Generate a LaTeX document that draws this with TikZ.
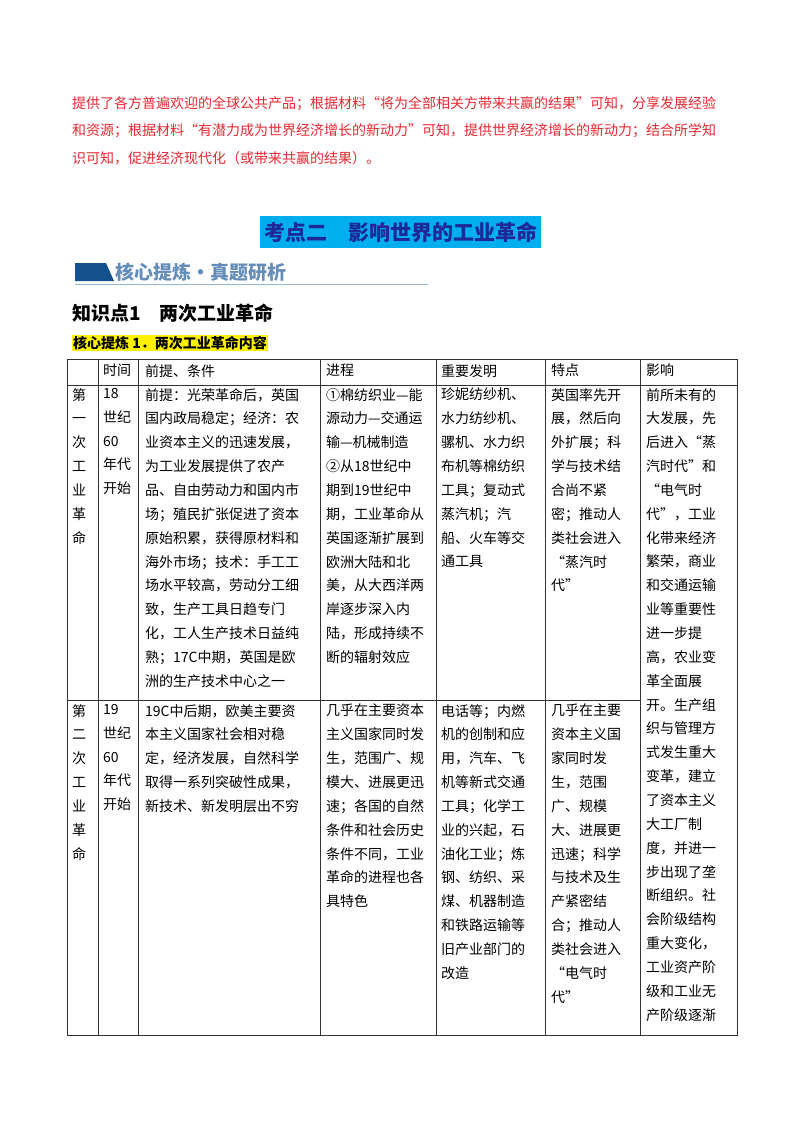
\documentclass[tikz,border=0pt]{standalone}
\usepackage{fontspec}
\setmainfont{Noto Sans CJK SC}
\definecolor{redtxt}{RGB}{232,40,50}
\definecolor{titletxt}{RGB}{30,40,150}
\definecolor{bannerdark}{RGB}{20,80,140}
\definecolor{bannerline}{RGB}{150,185,215}
\definecolor{bannertxt}{RGB}{100,140,185}
\begin{document}
\begin{tikzpicture}[x=1pt,y=-1pt,
  cell/.style={anchor=north west,inner sep=0pt,align=left,font=\fontsize{14}{23.85}\selectfont},
  grid/.style={line width=0.8pt,black!80},
  red/.style={anchor=west,inner sep=0pt,font=\fontsize{14}{16}\selectfont,text=redtxt}]
\useasboundingbox (0,0) rectangle (800,1132);
% top red text
\node[red] (r1) at (72,104) {提供了各方普遍欢迎的全球公共产品；根据材料“将为全部相关方带来共赢的结果”可知，分享发展经验};
\node[red] (r2) at (72,131) {和资源；根据材料“有潜力成为世界经济增长的新动力”可知，提供世界经济增长的新动力；结合所学知};
\node[red] (r3) at (72,158) {识可知，促进经济现代化（或带来共赢的结果）。};
% title
\fill[cyan] (260,216) rectangle (541,248);
\node[inner sep=0pt,font=\fontsize{21}{24}\selectfont\bfseries,text=titletxt] (title) at (400.5,232) {考点二\quad 影响世界的工业革命};
% banner
\fill[bannerdark] (75,263) -- (106,263) -- (114,281) -- (75,281) -- cycle;
\draw[bannerline,line width=1pt] (75,284.5) -- (428,284.5);
\node[anchor=west,inner sep=0pt,font=\fontsize{19}{22}\selectfont\bfseries,text=bannertxt] (banner) at (115,272) {核心提炼·真题研析};
\node[anchor=west,inner sep=0pt,font=\fontsize{19}{22}\selectfont\bfseries] (kp) at (72,313) {知识点1\quad 两次工业革命};
\node[anchor=west,inner sep=1pt,fill=yellow,font=\fontsize{14}{16}\selectfont\bfseries] (hl) at (72,343) {核心提炼 1．两次工业革命内容};
% grid
\draw[grid] (67,359) rectangle (737,1035);
\draw[grid] (67,385) -- (737,385);
\draw[grid] (67,700) -- (640,700);
\foreach \x in {98,138,320,436,545,640} \draw[grid] (\x,359) -- (\x,1035);
% header
\foreach \x/\t/\n in {103/时间/h1,145/前提、条件/h2,326/进程/h3,441/重要发明/h4,551/特点/h5,646/影响/h6}
  \node[cell] (\n) at (\x,364) {\t};
% row 1
\node[cell] (a1) at (72,388) {第\\一\\次\\工\\业\\革\\命};
\node[cell] (a2) at (103,388) {18\\世纪\\60\\年代\\开始};
\node[cell] (a3) at (145,388) {前提：光荣革命后，英国\\国内政局稳定；经济：农\\业资本主义的迅速发展，\\为工业发展提供了农产\\品、自由劳动力和国内市\\场；殖民扩张促进了资本\\原始积累，获得原材料和\\海外市场；技术：手工工\\场水平较高，劳动分工细\\致，生产工具日趋专门\\化，工人生产技术日益纯\\熟；17C中期，英国是欧\\洲的生产技术中心之一};
\node[cell] (a4) at (326,388) {①棉纺织业—能\\源动力—交通运\\输—机械制造\\②从18世纪中\\期到19世纪中\\期，工业革命从\\英国逐渐扩展到\\欧洲大陆和北\\美，从大西洋两\\岸逐步深入内\\陆，形成持续不\\断的辐射效应};
\node[cell] (a5) at (441,388) {珍妮纺纱机、\\水力纺纱机、\\骡机、水力织\\布机等棉纺织\\工具；复动式\\蒸汽机；汽\\船、火车等交\\通工具};
\node[cell] (a6) at (551,388) {英国率先开\\展，然后向\\外扩展；科\\学与技术结\\合尚不紧\\密；推动人\\类社会进入\\“蒸汽时\\代”};
\node[cell] (a7) at (646,388) {前所未有的\\大发展，先\\后进入“蒸\\汽时代”和\\“电气时\\代”，工业\\化带来经济\\繁荣，商业\\和交通运输\\业等重要性\\进一步提\\高，农业变\\革全面展\\开。生产组\\织与管理方\\式发生重大\\变革，建立\\了资本主义\\大工厂制\\度，并进一\\步出现了垄\\断组织。社\\会阶级结构\\重大变化，\\工业资产阶\\级和工业无\\产阶级逐渐};
% row 2
\node[cell] (b1) at (72,704) {第\\二\\次\\工\\业\\革\\命};
\node[cell] (b2) at (103,704) {19\\世纪\\60\\年代\\开始};
\node[cell] (b3) at (145,704) {19C中后期，欧美主要资\\本主义国家社会相对稳\\定，经济发展，自然科学\\取得一系列突破性成果，\\新技术、新发明层出不穷};
\node[cell] (b4) at (326,704) {几乎在主要资本\\主义国家同时发\\生，范围广、规\\模大、进展更迅\\速；各国的自然\\条件和社会历史\\条件不同，工业\\革命的进程也各\\具特色};
\node[cell] (b5) at (441,704) {电话等；内燃\\机的创制和应\\用，汽车、飞\\机等新式交通\\工具；化学工\\业的兴起，石\\油化工业；炼\\钢、纺织、采\\煤、机器制造\\和铁路运输等\\旧产业部门的\\改造};
\node[cell] (b6) at (551,704) {几乎在主要\\资本主义国\\家同时发\\生，范围\\广、规模\\大、进展更\\迅速；科学\\与技术及生\\产紧密结\\合；推动人\\类社会进入\\“电气时\\代”};
\end{tikzpicture}
\end{document}
